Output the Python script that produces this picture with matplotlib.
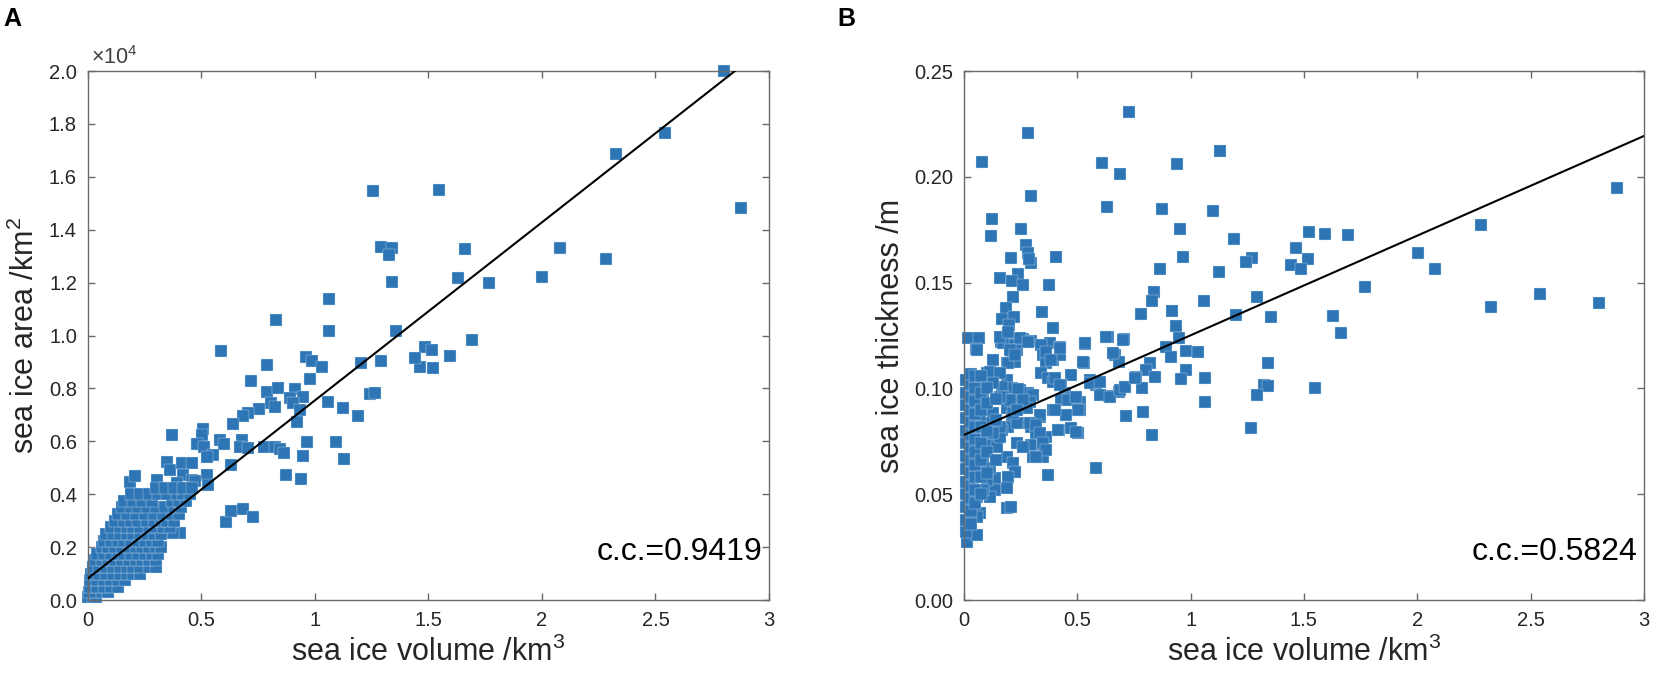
import numpy as np
import matplotlib.pyplot as plt
from matplotlib.ticker import MultipleLocator, FormatStrFormatter

plt.rcParams['font.family'] = ['Liberation Sans', 'DejaVu Sans']
plt.rcParams['mathtext.fontset'] = 'custom'
plt.rcParams['mathtext.rm'] = 'Liberation Sans'
plt.rcParams['mathtext.it'] = 'Liberation Sans:italic'
plt.rcParams['mathtext.bf'] = 'Liberation Sans:bold'

# ---- panel A: (volume km^3, area in 1e4 km^2) ----
spread_a = [
    (2.80, 2.00), (2.54, 1.764), (2.325, 1.685), (1.548, 1.549), (2.878, 1.482),
    (1.662, 1.326), (2.078, 1.33), (2.282, 1.29), (1.628, 1.217), (1.767, 1.20),
    (2.001, 1.222), (1.692, 0.983), (1.485, 0.958), (1.517, 0.945), (1.593, 0.922),
    (1.463, 0.882), (1.518, 0.876), (1.44, 0.914),
    (1.254, 1.548), (1.293, 1.336), (1.338, 1.33), (1.327, 1.304), (1.340, 1.204),
    (1.062, 1.139), (0.827, 1.059), (1.062, 1.016), (1.355, 1.016),
    (0.584, 0.943), (0.959, 0.920), (0.985, 0.905), (1.029, 0.881), (0.787, 0.888),
    (1.201, 0.895), (1.289, 0.902),
    (0.978, 0.834), (0.717, 0.828), (0.787, 0.788), (0.838, 0.80), (0.912, 0.797),
    (0.890, 0.763), (0.946, 0.769), (0.904, 0.744), (0.934, 0.718), (0.919, 0.674),
    (0.805, 0.744), (0.824, 0.731), (0.755, 0.721), (0.706, 0.706), (0.681, 0.696),
    (0.637, 0.665),
    (1.057, 0.750), (1.123, 0.727), (1.191, 0.697), (1.242, 0.779), (1.264, 0.784),
    (0.369, 0.624), (0.505, 0.645), (0.501, 0.624), (0.479, 0.590), (0.581, 0.605),
    (0.599, 0.590), (0.677, 0.605), (0.670, 0.580), (0.706, 0.574), (0.775, 0.580),
    (0.824, 0.580), (0.846, 0.571), (0.863, 0.555), (0.963, 0.596), (0.949, 0.544),
    (1.093, 0.596), (1.128, 0.533), (0.871, 0.473), (0.937, 0.456), (0.630, 0.510),
    (0.512, 0.580), (0.549, 0.548), (0.523, 0.542), (0.347, 0.523), (0.361, 0.491),
    (0.413, 0.519), (0.457, 0.517), (0.523, 0.473), (0.530, 0.435), (0.420, 0.473),
    (0.457, 0.454), (0.472, 0.45), (0.390, 0.441), (0.435, 0.422), (0.302, 0.454),
    (0.185, 0.447), (0.207, 0.469),
    (0.606, 0.296), (0.629, 0.338), (0.684, 0.343), (0.725, 0.315),
    (0.347, 0.252), (0.405, 0.252), (0.376, 0.253),
]

core_a = [
    (0.00, 0.01), (0.02, 0.01), (0.035, 0.01),
    (0.005, 0.03), (0.03, 0.03), (0.06, 0.03), (0.09, 0.03),
    (0.01, 0.05), (0.04, 0.05), (0.07, 0.05), (0.10, 0.05), (0.13, 0.05),
    (0.01, 0.075), (0.04, 0.075), (0.07, 0.075), (0.10, 0.075), (0.13, 0.075), (0.165, 0.075),
    (0.015, 0.10), (0.05, 0.10), (0.08, 0.10), (0.11, 0.10), (0.14, 0.10), (0.17, 0.10),
    (0.20, 0.10), (0.23, 0.10),
    (0.02, 0.125), (0.05, 0.125), (0.08, 0.125), (0.11, 0.125), (0.14, 0.125), (0.17, 0.125),
    (0.20, 0.125), (0.23, 0.125), (0.27, 0.125), (0.30, 0.125),
    (0.03, 0.15), (0.06, 0.15), (0.09, 0.15), (0.12, 0.15), (0.15, 0.15), (0.18, 0.15),
    (0.21, 0.15), (0.24, 0.15), (0.27, 0.15), (0.30, 0.15),
    (0.04, 0.175), (0.07, 0.175), (0.10, 0.175), (0.13, 0.175), (0.16, 0.175), (0.19, 0.175),
    (0.22, 0.175), (0.25, 0.175), (0.28, 0.175), (0.31, 0.175),
    (0.06, 0.20), (0.09, 0.20), (0.12, 0.20), (0.15, 0.20), (0.18, 0.20), (0.21, 0.20),
    (0.24, 0.20), (0.27, 0.20), (0.30, 0.20), (0.32, 0.20),
    (0.07, 0.225), (0.10, 0.225), (0.13, 0.225), (0.16, 0.225), (0.19, 0.225), (0.22, 0.225),
    (0.25, 0.225), (0.28, 0.225), (0.31, 0.225),
    (0.08, 0.25), (0.11, 0.25), (0.14, 0.25), (0.17, 0.25), (0.20, 0.25), (0.23, 0.25),
    (0.26, 0.25), (0.29, 0.25), (0.32, 0.25),
    (0.10, 0.275), (0.14, 0.275), (0.17, 0.275), (0.20, 0.275), (0.23, 0.275), (0.27, 0.275),
    (0.30, 0.275), (0.33, 0.275), (0.36, 0.275),
    (0.12, 0.30), (0.16, 0.30), (0.19, 0.30), (0.22, 0.30), (0.26, 0.30), (0.29, 0.30),
    (0.32, 0.30), (0.35, 0.30), (0.38, 0.30),
    (0.13, 0.325), (0.17, 0.325), (0.21, 0.325), (0.25, 0.325), (0.29, 0.325), (0.33, 0.325),
    (0.37, 0.325), (0.40, 0.325),
    (0.15, 0.35), (0.19, 0.35), (0.22, 0.35), (0.26, 0.35), (0.30, 0.35), (0.34, 0.35),
    (0.38, 0.35), (0.41, 0.35),
    (0.16, 0.375), (0.20, 0.375), (0.24, 0.375), (0.28, 0.375), (0.37, 0.375), (0.40, 0.375),
    (0.43, 0.375),
    (0.19, 0.40), (0.23, 0.40), (0.27, 0.40), (0.31, 0.40), (0.35, 0.40), (0.39, 0.40),
    (0.42, 0.40), (0.45, 0.40),
    (0.30, 0.425), (0.34, 0.425), (0.38, 0.425), (0.42, 0.425), (0.46, 0.425),
]

# ---- panel B: (volume km^3, thickness m) ----
spread_b = [
    (2.880, 0.1949), (2.282, 0.1772), (2.003, 0.1638), (2.079, 0.1566), (2.542, 0.1445),
    (2.800, 0.1405), (2.326, 0.1383), (1.521, 0.1741), (1.595, 0.1731), (1.693, 0.1723),
    (1.463, 0.1665), (1.517, 0.1610), (1.443, 0.1582), (1.488, 0.1563), (1.272, 0.1615),
    (1.768, 0.1479), (1.292, 0.1433), (1.355, 0.1336), (1.630, 0.1342), (1.664, 0.1260),
    (1.340, 0.1119), (1.326, 0.1017), (1.343, 0.1013), (1.295, 0.0969), (1.549, 0.1003),
    (1.267, 0.0814),
    (0.728, 0.2305), (0.283, 0.2206), (0.081, 0.2069), (0.608, 0.2064), (0.687, 0.2012),
    (0.940, 0.2062), (1.131, 0.2122), (0.298, 0.1909), (0.629, 0.1856), (0.872, 0.1848),
    (1.097, 0.1840), (0.125, 0.1799), (0.119, 0.1722), (0.952, 0.1752), (1.191, 0.1706),
    (0.252, 0.1752), (0.272, 0.1678), (0.283, 0.1639), (0.298, 0.1594), (0.287, 0.1613),
    (0.207, 0.1615), (0.405, 0.1623), (0.966, 0.1623), (0.866, 0.1563), (1.245, 0.1599),
    (1.125, 0.1549), (1.201, 0.1345),
    (0.159, 0.152), (0.239, 0.1539), (0.21, 0.1506), (0.261, 0.149), (0.376, 0.1489),
    (0.217, 0.143), (0.185, 0.1382), (0.837, 0.1454), (0.828, 0.1412), (0.344, 0.136),
    (0.780, 0.1352), (0.919, 0.1366), (1.057, 0.1413), (0.170, 0.1327), (0.220, 0.1336),
    (0.937, 0.1296), (0.391, 0.1284), (0.019, 0.1237), (0.068, 0.1237), (0.053, 0.1185),
    (0.162, 0.1221), (0.195, 0.126), (0.2, 0.13), (0.261, 0.1232), (0.294, 0.1226),
    (0.532, 0.121), (0.634, 0.1245), (0.708, 0.1232), (0.947, 0.1237), (0.890, 0.1197),
    (0.915, 0.115), (0.978, 0.1177), (1.031, 0.1171), (0.981, 0.1087), (0.957, 0.1043),
    (1.062, 0.1048), (1.063, 0.0934), (0.667, 0.1158), (0.684, 0.1126), (0.821, 0.1122),
    (0.805, 0.1087), (0.843, 0.1055), (0.759, 0.1052), (0.787, 0.1), (0.712, 0.1008),
    (0.684, 0.0985), (0.640, 0.0964), (0.584, 0.1016), (0.599, 0.0969), (0.555, 0.104),
    (0.474, 0.1063), (0.529, 0.1122), (0.790, 0.089), (0.717, 0.087), (0.828, 0.0781),
    (0.584, 0.0622),
    (0.129, 0.1134), (0.217, 0.1205), (0.232, 0.1182), (0.210, 0.115), (0.188, 0.1119),
    (0.225, 0.1126), (0.379, 0.1213), (0.423, 0.1197), (0.342, 0.1205),
    (0.394, 0.1134), (0.423, 0.1158), (0.349, 0.1158), (0.364, 0.1119),
    (0.342, 0.1071), (0.372, 0.1048), (0.394, 0.1032), (0.430, 0.1016), (0.445, 0.0977),
    (0.467, 0.0953), (0.430, 0.0945), (0.511, 0.0937), (0.511, 0.0898), (0.394, 0.0898),
    (0.452, 0.0874), (0.419, 0.0803), (0.474, 0.0811), (0.504, 0.0788), (0.335, 0.0866),
    (0.313, 0.0835), (0.276, 0.0835), (0.298, 0.0819), (0.320, 0.0788), (0.298, 0.0733),
    (0.349, 0.0733), (0.364, 0.0772), (0.305, 0.0677), (0.349, 0.0677), (0.369, 0.0591),
    (0.232, 0.0741), (0.261, 0.0725), (0.188, 0.0677), (0.217, 0.0646), (0.225, 0.0607),
    (0.195, 0.0583), (0.188, 0.0433), (0.207, 0.0441), (0.137, 0.0575), (0.137, 0.052),
    (0.188, 0.0528), (0.115, 0.0488),
    (0.247, 0.0992), (0.283, 0.0977), (0.305, 0.0969), (0.291, 0.0937), (0.276, 0.0906),
    (0.188, 0.104), (0.210, 0.100), (0.166, 0.1008), (0.173, 0.0961), (0.217, 0.0945),
    (0.188, 0.0906), (0.210, 0.0866), (0.195, 0.0819), (0.166, 0.0803), (0.232, 0.0835),
    (0.217, 0.0882),
    (0.100, 0.1071), (0.144, 0.1071), (0.129, 0.1048), (0.070, 0.104), (0.041, 0.1055),
    (0.026, 0.1024), (0.056, 0.0985), (0.085, 0.0945), (0.100, 0.0898), (0.129, 0.0882),
    (0.115, 0.0835), (0.070, 0.0851), (0.041, 0.0882), (0.056, 0.0788), (0.085, 0.0764),
    (0.115, 0.0733), (0.144, 0.0725), (0.159, 0.0772), (0.159, 0.0819), (0.129, 0.0788),
    (0.026, 0.0819), (0.019, 0.0756), (0.026, 0.0725), (0.026, 0.0677), (0.012, 0.063),
    (0.056, 0.0614), (0.070, 0.0677), (0.070, 0.0725), (0.085, 0.0646), (0.115, 0.0622),
    (0.100, 0.0567), (0.041, 0.0567), (0.026, 0.052), (0.056, 0.0488), (0.085, 0.052),
    (0.012, 0.0457), (0.041, 0.0425), (0.070, 0.041), (0.019, 0.0378), (0.056, 0.0394),
    (0.026, 0.0346), (0.012, 0.0276), (0.056, 0.0307),
    (0.401, 0.1048), (0.423, 0.1016), (0.460, 0.0945), (0.496, 0.096), (0.504, 0.0898),
    (0.452, 0.0874), (0.401, 0.0898), (0.335, 0.0874), (0.291, 0.0835), (0.32, 0.0827),
    (0.335, 0.0788), (0.35, 0.0741), (0.364, 0.0709), (0.32, 0.0677), (0.415, 0.0803),
    (0.496, 0.0796),
    (0.555, 0.1024), (0.599, 0.1032), (0.643, 0.0961), (0.687, 0.0992), (0.709, 0.1008),
    (0.753, 0.1048), (0.533, 0.1213), (0.526, 0.1126), (0.628, 0.1244), (0.702, 0.123),
    (0.658, 0.1166),
    (0.247, 0.1237), (0.283, 0.1221), (0.364, 0.1174), (0.386, 0.1134), (0.423, 0.1189),
    (0.173, 0.1213), (0.203, 0.1182), (0.195, 0.112), (0.225, 0.1159), (0.159, 0.1245),
    (0.195, 0.1268), (0.056, 0.1182),
    (0.115, 0.1079), (0.159, 0.1071), (0.129, 0.1024), (0.239, 0.0996), (0.261, 0.0945),
    (0.203, 0.0945), (0.232, 0.0898), (0.159, 0.0961),
]

core_b = [
    (0.008, 0.032), (0.008, 0.038), (0.008, 0.044), (0.008, 0.050), (0.008, 0.056),
    (0.008, 0.062), (0.008, 0.068), (0.008, 0.074), (0.008, 0.080), (0.008, 0.086),
    (0.008, 0.092), (0.008, 0.098), (0.008, 0.104),
    (0.03, 0.036), (0.03, 0.042), (0.03, 0.048), (0.03, 0.054), (0.03, 0.060),
    (0.03, 0.066), (0.03, 0.072), (0.03, 0.078), (0.03, 0.084), (0.03, 0.090),
    (0.03, 0.096), (0.03, 0.102), (0.03, 0.107),
    (0.05, 0.046), (0.05, 0.052), (0.05, 0.058), (0.05, 0.064), (0.05, 0.070),
    (0.05, 0.076), (0.05, 0.082), (0.05, 0.088), (0.05, 0.094), (0.05, 0.100), (0.05, 0.106),
    (0.075, 0.050), (0.075, 0.058), (0.075, 0.066), (0.075, 0.074), (0.075, 0.082),
    (0.075, 0.090), (0.075, 0.098), (0.075, 0.106),
    (0.10, 0.060), (0.10, 0.070), (0.10, 0.080), (0.10, 0.093), (0.10, 0.100),
    (0.14, 0.066), (0.14, 0.085), (0.14, 0.095),
]

# regression lines: (slope, intercept)
fit_a = (0.673, 0.082)
fit_b = (0.0471, 0.078)
cc_a = 'c.c.=0.9419'
cc_b = 'c.c.=0.5824'

vol_a = np.array([p[0] for p in spread_a + core_a])
area_a = np.array([p[1] for p in spread_a + core_a])
vol_b = np.array([p[0] for p in spread_b + core_b])
thick_b = np.array([p[1] for p in spread_b + core_b])

blue = '#2E75B6'
grey = '#6a6a6a'
txt = '#262626'

fig = plt.figure(figsize=(16.54, 6.79), dpi=100)
ax1 = fig.add_axes([0.0532, 0.1163, 0.4117, 0.7791])
ax2 = fig.add_axes([0.5828, 0.1163, 0.4111, 0.7791])


def style(ax):
    for s in ax.spines.values():
        s.set_color(grey)
        s.set_linewidth(1.0)
    ax.tick_params(direction='in', top=True, right=True, length=5, width=1,
                   color=grey, labelsize=14.5, labelcolor=txt, pad=8)


xl = np.array([0, 3])

ax1.scatter(vol_a, area_a, marker='s', s=74, c=blue, edgecolors='#d6e4f2',
            linewidths=0.25, zorder=2, clip_on=False)
ax1.plot(xl, fit_a[0] * xl + fit_a[1], color='k', lw=1.5, zorder=3)
ax1.set_xlim(0, 3)
ax1.set_ylim(0, 2.0)
ax1.xaxis.set_major_locator(MultipleLocator(0.5))
ax1.yaxis.set_major_locator(MultipleLocator(0.2))
ax1.xaxis.set_major_formatter(FormatStrFormatter('%g'))
ax1.yaxis.set_major_formatter(FormatStrFormatter('%.1f'))
style(ax1)
ax1.set_xlabel('sea ice volume /km$^3$', fontsize=22, color=txt, labelpad=5)
ax1.set_ylabel('sea ice area /km$^2$', fontsize=22, color=txt, labelpad=6)
ax1.text(0.004, 1.004, '×10$^4$', transform=ax1.transAxes, fontsize=15.5,
         color='#404040', ha='left', va='bottom')
ax1.text(0.99, 0.075, cc_a, transform=ax1.transAxes, fontsize=23, color='k',
         ha='right', va='baseline')

ax2.scatter(vol_b, thick_b, marker='s', s=74, c=blue, edgecolors='#d6e4f2',
            linewidths=0.25, zorder=2, clip_on=False)
ax2.plot(xl, fit_b[0] * xl + fit_b[1], color='k', lw=1.5, zorder=3)
ax2.set_xlim(0, 3)
ax2.set_ylim(0, 0.25)
ax2.xaxis.set_major_locator(MultipleLocator(0.5))
ax2.yaxis.set_major_locator(MultipleLocator(0.05))
ax2.xaxis.set_major_formatter(FormatStrFormatter('%g'))
ax2.yaxis.set_major_formatter(FormatStrFormatter('%.2f'))
style(ax2)
ax2.set_xlabel('sea ice volume /km$^3$', fontsize=22, color=txt, labelpad=5)
ax2.set_ylabel('sea ice thickness /m', fontsize=22, color=txt, labelpad=6)
ax2.text(0.99, 0.075, cc_b, transform=ax2.transAxes, fontsize=23, color='k',
         ha='right', va='baseline')

fig.text(0.002, 0.99, 'A', fontsize=18, fontweight='bold', ha='left', va='top')
fig.text(0.506, 0.99, 'B', fontsize=18, fontweight='bold', ha='left', va='top')

fig.savefig('out.png', dpi=100)
